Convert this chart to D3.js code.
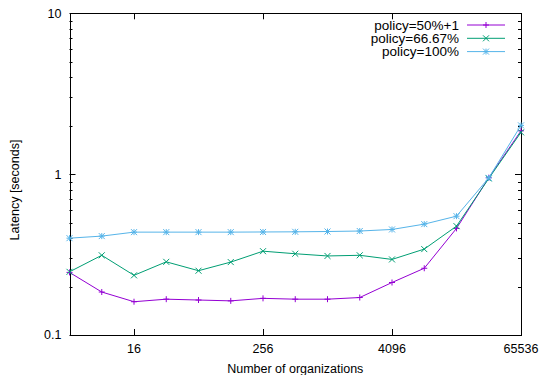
<!DOCTYPE html>
<html>
<head>
<meta charset="utf-8">
<script src="https://cdn.jsdelivr.net/npm/d3@7"></script>
<style>
  body { margin: 0; background: #fff; }
  svg { display: block; font-family: "Liberation Sans", Arial, sans-serif; }
</style>
</head>
<body>
<svg id="chart" width="541" height="375"></svg>
<script>
// organizations (powers of two)
const orgs = [4, 8, 16, 32, 64, 128, 256, 512, 1024, 2048, 4096, 8192, 16384, 32768, 65536];

// latency in seconds, one array per policy
const policy50 = [0.245, 0.185, 0.161, 0.167, 0.165, 0.163, 0.169, 0.167, 0.167, 0.171, 0.212, 0.26, 0.46, 0.95, 1.86];
const policy6667 = [0.247, 0.313, 0.235, 0.285, 0.251, 0.284, 0.332, 0.32, 0.31, 0.313, 0.295, 0.342, 0.475, 0.94, 1.82];
const policy100 = [0.4, 0.412, 0.436, 0.436, 0.436, 0.436, 0.437, 0.438, 0.44, 0.443, 0.453, 0.489, 0.548, 0.948, 2.01];

const seriesNames = ["policy=50%+1", "policy=66.67%", "policy=100%"];
const seriesColors = ["#9400d3", "#009e73", "#56b4e9"];
const seriesMarks = ["plus", "cross", "star"];

const xTicks = [16, 256, 4096, 65536];
const yTicks = [0.1, 1, 10];

const svg = d3.select("#chart");
const m = { left: 69.5, right: 521, top: 13.3, bottom: 335 };

const x = d3.scaleLog().base(2).domain([4, 65536]).range([m.left, m.right]);
const y = d3.scaleLog().domain([0.1, 10]).range([m.bottom, m.top]);

const series = [policy50, policy6667, policy100].map((vals, i) => ({
  name: seriesNames[i], color: seriesColors[i], mark: seriesMarks[i],
  points: vals.map((v, j) => ({ x: orgs[j], y: v }))
}));

// minor y ticks 2..9 per decade
const yMinor = [];
for (const d of [0.1, 1]) for (let k = 2; k <= 9; k++) yMinor.push(d * k);

// axes, gnuplot style: ticks drawn inward on all four sides
const axisG = svg.append("g").attr("stroke", "#000").attr("stroke-width", 1);

function vtick(g, yy, len) {
  g.append("line").attr("x1", m.left).attr("x2", m.left + len).attr("y1", yy).attr("y2", yy);
  g.append("line").attr("x1", m.right).attr("x2", m.right - len).attr("y1", yy).attr("y2", yy);
}
yTicks.forEach(t => vtick(axisG, Math.round(y(t)) + 0.5, 6));
yMinor.forEach(t => vtick(axisG, Math.round(y(t)) + 0.5, 3));

xTicks.forEach(t => {
  const xx = Math.round(x(t)) + 0.5;
  axisG.append("line").attr("x1", xx).attr("x2", xx).attr("y1", m.bottom).attr("y2", m.bottom - 6);
  axisG.append("line").attr("x1", xx).attr("x2", xx).attr("y1", m.top).attr("y2", m.top + 6);
});

// frame
svg.append("rect")
  .attr("x", Math.round(m.left) + 0.5).attr("y", Math.round(m.top) + 0.5)
  .attr("width", Math.round(m.right) - Math.round(m.left))
  .attr("height", Math.round(m.bottom) - Math.round(m.top))
  .attr("fill", "none").attr("stroke", "#000").attr("stroke-width", 1);

// tick labels
const fs = 12.5;
svg.append("g").selectAll("text").data(yTicks).enter().append("text")
  .attr("x", 61.5).attr("y", d => y(d)).attr("dy", "0.35em")
  .attr("text-anchor", "end").attr("font-size", fs).text(d => d3.format("~g")(d));

svg.append("g").selectAll("text").data(xTicks).enter().append("text")
  .attr("x", d => x(d)).attr("y", 349).attr("dy", "0.35em")
  .attr("text-anchor", "middle").attr("font-size", fs).text(d => d);

svg.append("text").attr("x", (m.left + m.right) / 2).attr("y", 368.5).attr("dy", "0.35em")
  .attr("text-anchor", "middle").attr("font-size", fs).text("Number of organizations");

svg.append("text").attr("transform", "translate(15,190) rotate(-90)").attr("dy", "0.35em")
  .attr("text-anchor", "middle").attr("font-size", fs).text("Latency [seconds]");

// markers
function marker(g, cx, cy, type, color, s) {
  const p = g.append("path").attr("fill", "none").attr("stroke", color).attr("stroke-width", 1);
  const plus = `M${cx - s},${cy}H${cx + s}M${cx},${cy - s}V${cy + s}`;
  const cross = `M${cx - s},${cy - s}L${cx + s},${cy + s}M${cx - s},${cy + s}L${cx + s},${cy - s}`;
  p.attr("d", type === "plus" ? plus : type === "cross" ? cross : plus + cross);
}

const line = d3.line().x(d => x(d.x)).y(d => y(d.y));

series.forEach(s => {
  const g = svg.append("g");
  g.append("path").datum(s.points).attr("d", line)
    .attr("fill", "none").attr("stroke", s.color).attr("stroke-width", 1);
  s.points.forEach(p => marker(g, x(p.x), y(p.y), s.mark, s.color, 3));
});

// legend
const key = svg.append("g");
series.forEach((s, i) => {
  const yy = 25 + i * 13.3;
  key.append("text").attr("x", 459).attr("y", yy).attr("dy", "0.35em")
    .attr("text-anchor", "end").attr("font-size", 13.5).text(s.name);
  key.append("line").attr("x1", 467).attr("x2", 505).attr("y1", yy).attr("y2", yy)
    .attr("stroke", s.color).attr("stroke-width", 1);
  marker(key, 486, yy, s.mark, s.color, 3);
});
</script>
</body>
</html>
